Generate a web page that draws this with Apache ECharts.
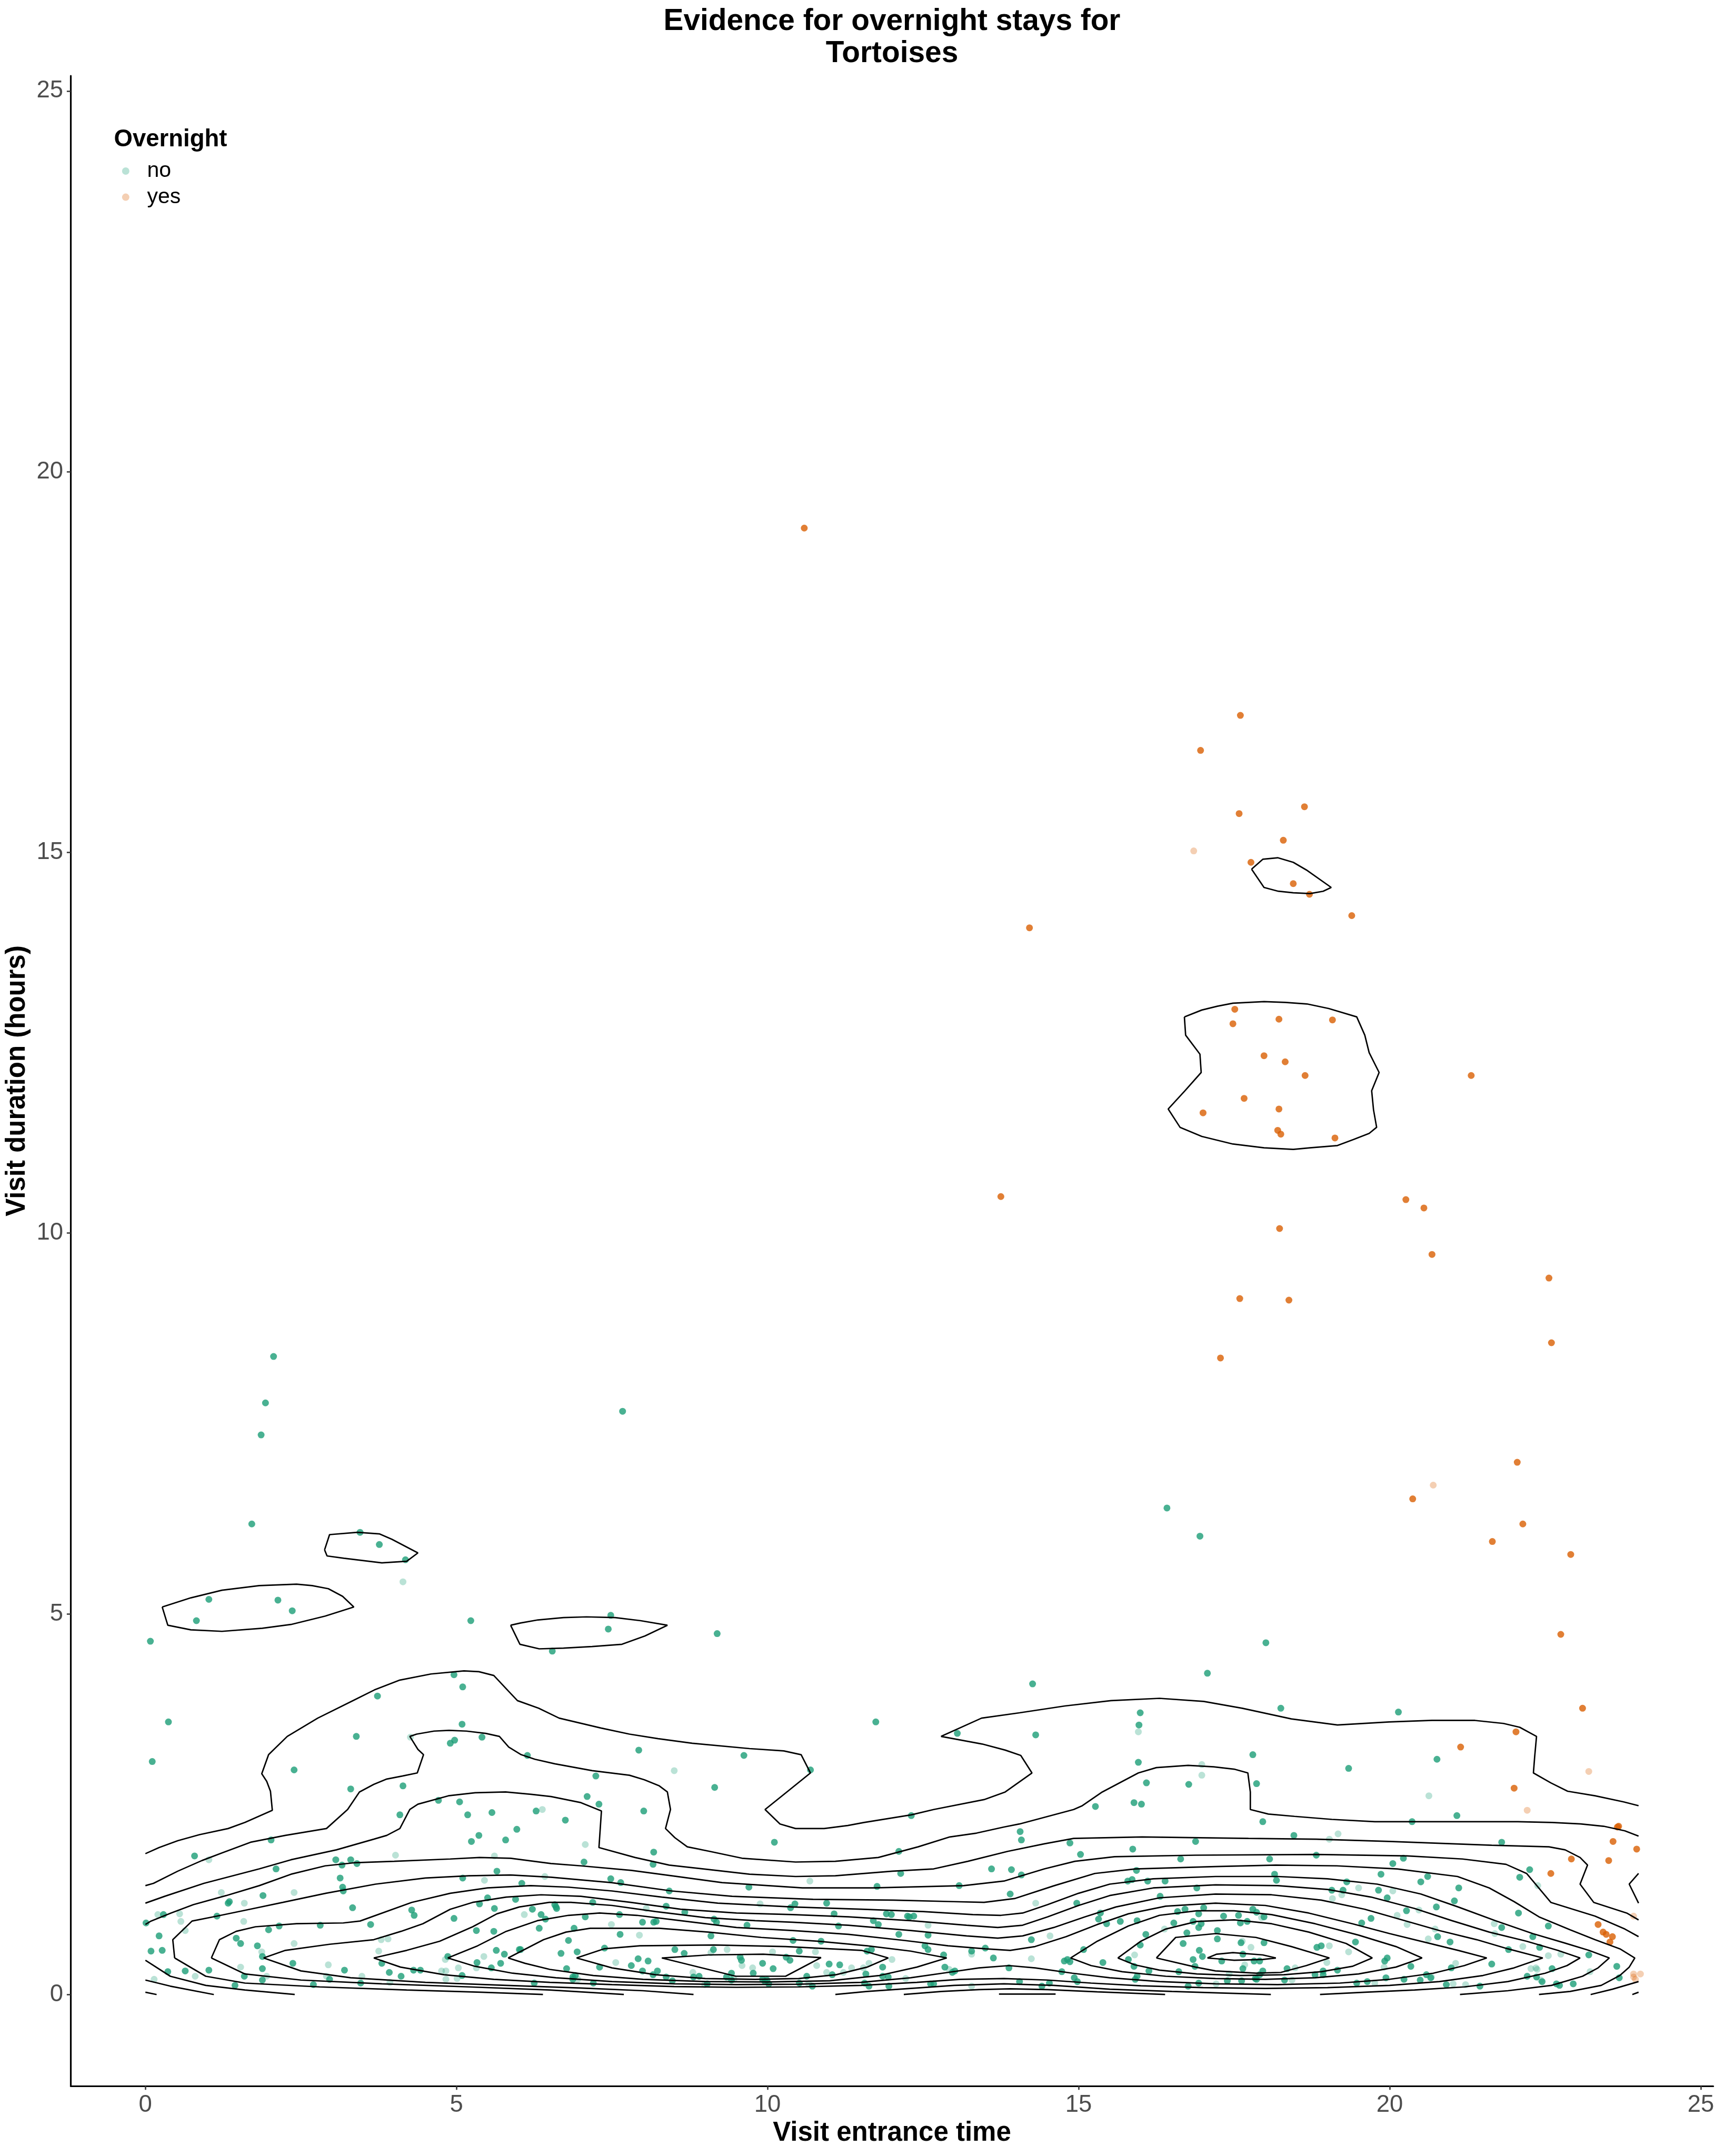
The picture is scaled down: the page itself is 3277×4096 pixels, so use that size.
<!DOCTYPE html>
<html>
<head>
<meta charset="utf-8">
<script src="https://cdn.jsdelivr.net/npm/echarts@6/dist/echarts.min.js"></script>
<style>html,body{margin:0;padding:0;background:#fff}#chart{width:3277px;height:4096px}</style>
</head>
<body>
<div id="chart"></div>
<script>
// ---------- axis ticks ----------
const xTicks = [0, 5, 10, 15, 20, 25];
const yTicks = [0, 5, 10, 15, 20, 25];
const legendNames = ['no', 'yes'];

// ---------- points: Overnight = no (opaque / faint) ----------
const noDark = [
[1.02,5.19],[2.13,5.18],[2.36,5.04],[0.82,4.91],[5.23,4.91],[0.08,4.64],[4.96,4.20],[5.10,4.04],[3.73,3.92],[0.37,3.58],[5.09,3.55],[3.39,3.39],[4.97,3.34],[4.90,3.30],[5.41,3.38],[0.11,3.06],[2.39,2.95],[3.30,2.70],[4.14,2.74],[4.71,2.55],[5.05,2.53],[4.09,2.36],[5.18,2.36],[5.57,2.39],[5.97,2.17],[5.36,2.09],[5.24,2.01],[5.79,2.03],[2.02,2.03],[0.79,1.82],[3.06,1.77],[3.30,1.77],[3.16,1.70],[3.40,1.72],[2.10,1.65],[5.65,1.62],[3.13,1.53],[5.10,1.53],[3.17,1.41],[3.18,1.36],[1.89,1.30],[1.33,1.20],[1.35,1.22],[5.50,1.27],[5.95,1.25],[5.37,1.19],[5.61,1.13],[3.33,1.14],[4.28,1.11],[4.32,1.04],[4.96,1.00],[0.29,1.05],[0.01,0.94],[1.15,1.03],[2.15,0.90],[1.98,0.85],[2.81,0.91],[3.62,0.92],[0.22,0.77],[5.32,0.84],[5.60,0.83],[1.46,0.74],[1.53,0.67],[1.80,0.64],[0.09,0.57],[0.27,0.58],[1.88,0.50],[5.64,0.58],[5.77,0.53],[6.01,0.59],[4.86,0.50],[2.37,0.41],[3.80,0.41],[5.33,0.42],[5.71,0.41],[5.56,0.35],[1.88,0.34],[3.20,0.32],[3.92,0.29],[4.31,0.32],[4.42,0.32],[0.36,0.30],[0.64,0.31],[1.02,0.32],[1.59,0.24],[1.88,0.19],[2.96,0.20],[4.11,0.24],[5.09,0.25],[1.44,0.12],[2.70,0.13],[3.46,0.15],
[7.48,4.98],[7.44,4.80],[6.54,4.51],[9.19,4.74],[11.74,3.58],[6.14,3.14],[7.93,3.21],[9.62,3.14],[10.69,2.95],[7.24,2.87],[9.15,2.72],[7.10,2.60],[7.29,2.50],[6.28,2.41],[6.75,2.29],[8.01,2.41],[10.11,2.00],[12.31,2.35],[8.17,1.87],[7.05,1.74],[8.16,1.71],[12.11,1.88],[12.14,1.59],[6.05,1.46],[7.48,1.52],[7.64,1.47],[8.42,1.36],[9.70,1.41],[11.76,1.42],[7.19,1.21],[6.58,1.18],[6.60,1.15],[6.61,1.13],[6.22,1.12],[6.36,1.05],[6.43,0.99],[8.37,1.16],[8.67,1.08],[7.62,1.05],[7.07,1.02],[7.99,0.95],[8.17,0.95],[8.21,0.96],[6.89,0.87],[6.33,0.87],[7.63,0.79],[9.14,0.99],[9.18,0.95],[10.37,1.14],[10.44,1.19],[10.95,1.20],[11.07,1.06],[9.67,0.91],[11.14,0.90],[11.91,1.06],[11.99,1.05],[12.25,1.03],[12.28,1.02],[12.35,1.03],[11.70,0.97],[11.78,0.92],[12.11,0.79],[12.58,0.78],[9.09,0.77],[10.41,0.71],[10.86,0.70],[6.80,0.71],[6.03,0.59],[7.38,0.61],[6.68,0.54],[6.94,0.56],[8.51,0.59],[8.66,0.54],[9.13,0.59],[10.51,0.57],[11.60,0.57],[11.67,0.59],[12.53,0.64],[12.58,0.59],[9.56,0.49],[9.58,0.45],[10.30,0.49],[10.36,0.45],[7.92,0.47],[8.08,0.44],[7.81,0.38],[7.30,0.36],[6.77,0.34],[9.92,0.41],[10.09,0.34],[10.99,0.40],[11.16,0.39],[11.85,0.36],[11.58,0.27],[7.99,0.31],[8.23,0.31],[8.16,0.26],[8.37,0.23],[8.47,0.18],[8.81,0.23],[8.90,0.24],[9.34,0.23],[9.42,0.28],[9.42,0.19],[9.77,0.28],[9.92,0.20],[9.99,0.19],[10.02,0.14],[9.96,0.17],[9.03,0.14],[11.04,0.26],[10.63,0.24],[10.72,0.11],[10.51,0.15],[11.85,0.24],[11.94,0.23],[11.95,0.11],[11.56,0.15],[11.63,0.11],[12.62,0.14],[6.87,0.23],[6.91,0.25],[6.87,0.20],[7.20,0.15],[6.25,0.15],
[18.01,4.62],[17.07,4.22],[14.26,4.08],[15.99,3.70],[13.05,3.43],[14.31,3.41],[15.97,3.54],[17.80,3.15],[15.96,3.05],[16.09,2.78],[16.77,2.76],[17.86,2.77],[15.27,2.47],[15.89,2.52],[16.01,2.50],[17.96,2.27],[14.06,2.14],[14.08,2.03],[14.86,1.99],[15.87,1.91],[16.88,2.01],[15.03,1.84],[16.64,1.78],[18.07,1.78],[13.60,1.65],[13.92,1.64],[14.08,1.57],[13.08,1.43],[15.93,1.63],[15.79,1.49],[15.86,1.51],[16.11,1.49],[16.39,1.49],[13.90,1.32],[14.97,1.20],[16.31,1.29],[16.90,1.40],[15.35,1.07],[15.32,0.99],[15.45,0.93],[15.67,0.96],[15.94,0.97],[16.59,1.09],[16.71,1.12],[17.01,1.14],[16.93,1.06],[17.33,1.03],[17.57,1.04],[17.80,1.12],[17.86,1.08],[17.98,1.02],[17.60,0.94],[17.71,0.96],[16.53,0.94],[16.84,0.96],[16.97,0.93],[16.93,0.88],[16.08,0.79],[16.74,0.81],[17.23,0.84],[17.23,0.73],[17.98,0.68],[17.61,0.68],[16.68,0.67],[15.99,0.65],[14.24,0.72],[13.50,0.61],[13.28,0.57],[12.83,0.52],[13.63,0.48],[15.08,0.59],[14.77,0.44],[14.82,0.46],[14.86,0.43],[15.39,0.42],[15.80,0.46],[15.89,0.37],[16.94,0.58],[16.99,0.50],[16.84,0.46],[16.87,0.37],[17.30,0.44],[17.64,0.53],[17.82,0.44],[17.91,0.44],[17.64,0.34],[17.96,0.31],[17.91,0.26],[17.84,0.21],[17.86,0.20],[17.39,0.18],[17.62,0.18],[16.93,0.15],[16.76,0.11],[16.61,0.30],[16.13,0.31],[15.94,0.24],[15.91,0.20],[14.73,0.30],[14.93,0.22],[14.98,0.17],[14.05,0.17],[13.88,0.35],[14.53,0.15],[14.41,0.11],[12.85,0.36],[12.97,0.29],[13.01,0.31],[12.67,0.14],
[18.25,3.76],[20.14,3.71],[20.76,3.09],[19.34,2.97],[21.08,2.35],[20.36,2.27],[18.46,2.09],[21.80,2.00],[18.82,1.83],[20.22,1.79],[20.05,1.72],[18.15,1.58],[18.18,1.50],[19.31,1.48],[19.86,1.58],[20.61,1.55],[20.50,1.48],[22.25,1.64],[22.09,1.54],[19.07,1.37],[19.25,1.37],[19.82,1.37],[21.11,1.40],[19.96,1.27],[21.04,1.23],[20.75,1.15],[20.27,1.10],[22.07,1.07],[19.70,1.00],[19.55,0.94],[21.80,0.88],[22.55,0.90],[20.77,0.76],[20.97,0.69],[22.30,0.76],[19.45,0.69],[18.83,0.62],[18.90,0.64],[22.41,0.62],[21.91,0.59],[23.20,0.52],[19.96,0.48],[19.92,0.44],[21.64,0.40],[20.34,0.37],[20.99,0.35],[18.35,0.34],[19.16,0.32],[18.93,0.31],[18.93,0.26],[18.80,0.26],[22.61,0.34],[23.65,0.37],[23.69,0.22],[22.21,0.24],[22.36,0.23],[22.45,0.17],[22.68,0.14],[22.73,0.12],[22.95,0.14],[20.59,0.26],[20.66,0.22],[20.49,0.19],[20.23,0.20],[19.94,0.22],[19.64,0.17],[19.47,0.15],[20.91,0.13],[21.45,0.11],[18.31,0.19],
[1.71,6.18],[1.86,7.35],[1.93,7.77],[2.06,8.38],[3.45,6.07],[3.76,5.91],[4.18,5.71],[7.67,7.66],[16.42,6.39],[16.95,6.02]
];
const noPale = [
[4.14,5.42],[4.26,3.38],[1.02,1.77],[4.02,1.83],[5.61,1.82],[5.45,1.50],[1.22,1.34],[2.39,1.34],[1.59,1.20],[0.20,1.05],[0.55,1.06],[0.57,0.96],[0.64,0.84],[1.58,0.96],[3.79,0.72],[3.90,0.73],[2.39,0.67],[1.87,0.56],[3.75,0.57],[5.44,0.50],[4.82,0.46],[5.32,0.35],[5.03,0.35],[4.76,0.31],[4.83,0.31],[1.53,0.36],[2.94,0.39],[0.80,0.24],[0.14,0.20],[1.95,0.24],[2.91,0.24],[3.48,0.24],[4.83,0.20],[5.01,0.21],[3.93,0.16],
[8.50,2.94],[6.38,2.43],[7.07,1.97],[6.42,1.55],[10.68,1.49],[6.09,1.05],[8.05,1.13],[7.49,0.92],[7.94,0.78],[9.88,1.19],[12.58,0.91],[9.09,0.55],[9.35,0.59],[10.08,0.56],[10.77,0.56],[12.00,0.46],[7.56,0.42],[9.59,0.38],[9.76,0.35],[10.79,0.38],[11.35,0.35],[11.54,0.35],[11.63,0.41],[8.80,0.29],[9.46,0.20],[8.99,0.13],[10.95,0.29],[11.22,0.29],[10.66,0.14],[12.22,0.21],[6.95,0.20],
[15.96,3.45],[16.98,3.02],[16.98,2.88],[14.31,1.20],[17.94,1.01],[16.38,0.86],[17.63,0.70],[17.77,0.62],[14.54,0.77],[13.28,0.53],[14.24,0.47],[15.90,0.52],[17.67,0.39],[17.42,0.27],[17.21,0.14],[13.28,0.11],[12.92,0.33],
[20.63,2.61],[19.03,2.04],[19.17,2.11],[22.38,1.43],[19.50,1.40],[20.05,1.36],[19.08,1.26],[19.23,1.31],[20.47,1.11],[20.12,1.04],[20.28,0.92],[21.68,0.93],[20.73,0.86],[20.62,0.73],[21.69,0.80],[19.03,0.64],[19.34,0.56],[22.14,0.63],[22.55,0.51],[22.75,0.53],[18.99,0.42],[21.06,0.41],[19.91,0.36],[18.48,0.35],[22.27,0.34],[22.35,0.35],[22.37,0.33],[23.22,0.30],[22.43,0.19],[20.67,0.23],[19.76,0.15],[21.02,0.14],[21.22,0.13],[18.43,0.19]
];

// ---------- points: Overnight = yes ----------
const yesDark = [
[22.75,4.73],[23.10,3.76],[22.03,3.45],[21.14,3.25],[22.00,2.71],[23.66,2.20],[23.68,2.21],[23.59,2.01],[23.97,1.91],[22.92,1.78],[23.52,1.76],[22.59,1.59],[23.35,0.92],[23.43,0.82],[23.48,0.79],[23.58,0.76],[23.54,0.69],
[17.60,16.80],[16.96,16.34],[17.58,15.51],[18.63,15.60],[18.29,15.16],[17.77,14.87],[18.45,14.59],[18.71,14.45],[19.39,14.17],[17.51,12.94],[17.48,12.75],[18.22,12.81],[19.08,12.80],[17.98,12.33],[18.32,12.25],[18.64,12.07],[21.31,12.07],[17.66,11.77],[17.00,11.58],[18.22,11.63],[18.20,11.35],[18.25,11.30],[19.12,11.25],
[10.59,19.26],[14.21,14.01],[13.75,10.48],[18.23,10.06],[20.26,10.44],[20.55,10.33],[20.68,9.72],[17.59,9.14],[18.38,9.12],[17.28,8.36],[22.56,9.41],[22.60,8.56],[22.05,6.99],[22.14,6.18],[20.37,6.51],[21.65,5.95],[22.91,5.78]
];
const yesPale = [
[16.85,15.02],[20.70,6.69],[23.20,2.93],[22.21,2.42],[23.92,1.03],[23.92,0.27],[24.03,0.27],[23.92,0.23],[23.95,0.20]
];

// ---------- 2-D density contour paths ----------
const contourLevel1 = [
[[0,1.85],[0.22,1.93],[0.52,2.02],[0.87,2.10],[1.33,2.18],[1.60,2.26],[2.04,2.42],[2.01,2.67],[1.95,2.80],[1.87,2.90],[1.98,3.15],[2.28,3.39],[2.77,3.63],[3.36,3.87],[3.68,4.00],[4.09,4.13],[4.59,4.21],[5.12,4.25],[5.36,4.24],[5.60,4.19],[5.83,3.99],[5.98,3.86],[6.32,3.76],[6.65,3.63],[7.32,3.50],[7.78,3.42],[8.24,3.36],[8.79,3.30],[9.71,3.23],[10.26,3.20],[10.54,3.15],[10.69,2.91],[10.31,2.66],[9.96,2.43],[10.20,2.24],[10.45,2.18],[10.91,2.18],[11.29,2.22],[11.55,2.26],[12.31,2.36],[12.67,2.43],[13.48,2.56],[13.82,2.66],[14.25,2.91],[14.07,3.14],[13.82,3.21],[13.45,3.29],[12.79,3.39],[13.44,3.63],[14.05,3.70],[14.78,3.79],[15.52,3.86],[16.30,3.89],[17.01,3.85],[17.63,3.76],[18.42,3.62],[19.16,3.54],[19.99,3.58],[20.68,3.60],[21.37,3.60],[21.83,3.56],[22.09,3.51],[22.36,3.39],[22.33,3.12],[22.31,2.91],[22.59,2.78],[22.86,2.67],[23.30,2.61],[23.76,2.53],[24,2.48]],
[[0.27,5.09],[0.73,5.21],[1.23,5.31],[1.83,5.37],[2.43,5.39],[2.68,5.37],[2.94,5.33],[3.17,5.23],[3.35,5.09],[2.89,4.97],[2.34,4.86],[1.88,4.81],[1.23,4.77],[0.73,4.79],[0.36,4.85],[0.27,5.09]],
[[2.88,5.84],[2.96,6.04],[3.41,6.07],[3.76,6.05],[3.96,5.98],[4.38,5.80],[4.20,5.69],[3.80,5.67],[3.19,5.73],[2.92,5.76],[2.88,5.84]],
[[5.87,4.85],[6.03,4.88],[6.31,4.92],[6.72,4.95],[7.09,4.96],[7.55,4.95],[7.96,4.91],[8.39,4.85],[8.03,4.71],[7.66,4.60],[7.18,4.57],[6.72,4.55],[6.33,4.54],[6.02,4.60],[5.87,4.85]],
[[17.78,14.78],[17.96,14.91],[18.20,14.93],[18.45,14.87],[18.66,14.77],[19.06,14.54],[18.93,14.49],[18.72,14.46],[18.45,14.47],[18.21,14.49],[17.98,14.54],[17.78,14.78]],
[[16.70,12.84],[16.98,12.93],[17.23,12.98],[17.48,13.02],[17.98,13.04],[18.32,13.03],[18.67,13.01],[19.02,12.95],[19.47,12.84],[19.60,12.60],[19.67,12.37],[19.83,12.11],[19.71,11.87],[19.74,11.62],[19.79,11.39],[19.67,11.31],[19.42,11.23],[19.16,11.15],[18.72,11.12],[18.45,11.10],[17.98,11.12],[17.48,11.17],[16.98,11.27],[16.63,11.39],[16.44,11.63],[16.71,11.87],[16.97,12.11],[16.95,12.35],[16.72,12.60],[16.70,12.84]]
];
const contourLevel2 = [
[[0,1.43],[0.13,1.46],[0.52,1.62],[0.91,1.76],[1.23,1.86],[1.69,2.00],[2.25,2.09],[2.91,2.18],[3.25,2.43],[3.44,2.66],[3.67,2.76],[3.88,2.83],[4.13,2.87],[4.37,2.91],[4.47,3.15],[4.38,3.22],[4.25,3.39],[4.36,3.42],[4.64,3.46],[4.88,3.47],[5.16,3.46],[5.47,3.43],[5.69,3.39],[5.84,3.25],[6.04,3.15],[6.26,3.09],[6.58,3.03],[7.18,2.94],[7.78,2.88],[8.02,2.82],[8.26,2.74],[8.39,2.66],[8.44,2.43],[8.36,2.18],[8.51,2.06],[8.71,1.94],[9.07,1.88],[9.59,1.79],[10.45,1.74],[11.09,1.75],[11.78,1.80],[12.42,1.94],[12.93,2.07],[13.36,2.12],[13.80,2.20],[14.05,2.24],[14.92,2.43],[15.06,2.48],[15.38,2.66],[15.96,2.91],[16.25,2.98],[16.76,3.01],[17.17,2.99],[17.50,2.96],[17.72,2.91],[17.76,2.66],[17.76,2.43],[18.05,2.37],[18.47,2.34],[19.07,2.30],[19.76,2.27],[20.59,2.27],[21.37,2.27],[22.06,2.27],[22.61,2.26],[23.07,2.24],[23.44,2.21],[23.78,2.15],[24,2.08]],
[[0,0.03],[0.18,0]]
];
const contourLevel3 = [
[[0,1.20],[0.31,1.29],[0.94,1.46],[1.83,1.65],[2.34,1.77],[3.07,1.90],[3.67,2.04],[3.88,2.09],[4.09,2.18],[4.25,2.43],[4.38,2.50],[4.87,2.61],[5.30,2.65],[5.79,2.66],[6.20,2.63],[6.52,2.60],[7.00,2.52],[7.33,2.41],[7.29,1.93],[7.87,1.80],[8.42,1.70],[8.97,1.65],[9.71,1.58],[10.45,1.55],[11.09,1.56],[12.01,1.62],[12.67,1.65],[13.22,1.75],[13.86,1.88],[14.45,1.98],[14.92,2.05],[16.02,2.07],[17.73,2.05],[18.82,2.04],[19.99,2.01],[21.64,1.96],[22.56,1.94],[22.82,1.90],[23.06,1.80],[23.18,1.70],[23.06,1.45],[23.28,1.21],[23.81,1.07],[24,0.98]],
[[0,0.19],[0.40,0.11],[1.10,0]],
[[23.90,0],[24,0.03]],
[[24,1.59],[23.85,1.45],[24,1.20]]
];
const contourLevel4 = [
[[0,0.92],[0.08,0.96],[0.41,1.07],[0.77,1.18],[1.30,1.30],[1.83,1.43],[2.34,1.58],[2.89,1.69],[3.35,1.73],[4.00,1.75],[4.90,1.78],[5.37,1.80],[5.87,1.79],[6.52,1.72],[7.00,1.69],[7.81,1.63],[8.46,1.56],[9.27,1.47],[10.56,1.40],[11.70,1.40],[13.15,1.43],[13.80,1.49],[14.45,1.65],[14.94,1.75],[15.58,1.81],[16.88,1.83],[18.82,1.84],[20.28,1.82],[21.17,1.78],[21.87,1.71],[22.20,1.59],[22.59,1.21],[23.30,1.03],[23.78,0.86],[24,0.76]],
[[0,0.45],[0.40,0.24],[0.97,0.12],[1.60,0.06],[2.40,0]],
[[23.23,0],[23.58,0.07],[24,0.17]]
];
const contourLevel5 = [
[[0.47,0.48],[0.44,0.72],[0.75,0.965],[1.15,1.03],[1.68,1.12],[2.21,1.21],[2.9,1.33],[3.7,1.45],[4.5,1.53],[5.2,1.56],[5.87,1.57],[6.52,1.54],[7.49,1.47],[8.46,1.36],[9.43,1.29],[10.73,1.25],[12.02,1.24],[12.99,1.22],[13.48,1.21],[13.97,1.26],[14.61,1.43],[15.26,1.59],[15.91,1.65],[17.20,1.68],[18.17,1.70],[19.15,1.69],[20.12,1.65],[21.09,1.55],[21.6,1.40],[22.0,1.22],[22.4,1.02],[22.9,0.85],[23.3,0.72],[23.7,0.60],[23.94,0.48],[23.85,0.36],[23.7,0.25],[23.4,0.12],[22.9,0.04],[22.40,0]],
[[0.47,0.48],[0.97,0.24],[1.6,0.15],[2.8,0.10],[4.2,0.06],[5.4,0.03],[6.39,0]],
[[13.72,0.006],[14.63,0.006]]
];
const contourLevel6 = [
[[1.06,0.48],[1.19,0.72],[1.46,0.83],[1.77,0.89],[2.43,0.93],[3.18,0.94],[3.45,0.965],[4.28,1.21],[4.9,1.33],[5.5,1.40],[6.19,1.43],[6.8,1.41],[7.5,1.36],[8.3,1.28],[9.2,1.20],[10.4,1.15],[11.5,1.12],[12.5,1.09],[13.3,1.05],[13.75,1.04],[14.1,1.07],[14.5,1.18],[15.0,1.33],[15.5,1.45],[16.2,1.52],[17.2,1.55],[18.2,1.55],[19.0,1.52],[19.8,1.45],[20.5,1.32],[21.1,1.15],[21.7,0.97],[22.3,0.80],[22.8,0.68],[23.2,0.58],[23.53,0.48],[23.35,0.35],[23.1,0.24],[22.6,0.12],[21.9,0.05],[21.13,0]],
[[1.06,0.48],[1.6,0.27],[2.5,0.19],[3.8,0.14],[5.2,0.10],[6.5,0.06],[7.69,0]],
[[12.19,0],[12.8,0.04],[13.4,0.065],[13.9,0.075],[14.5,0.065],[15.3,0.035],[16.39,0]]
];
const contourLevel7 = [
[[1.90,0.48],[2.25,0.58],[2.96,0.66],[3.67,0.72],[4.11,0.83],[4.46,0.93],[4.90,1.12],[5.26,1.21],[5.8,1.28],[6.36,1.31],[7.0,1.29],[7.8,1.21],[8.6,1.12],[9.5,1.07],[10.4,1.05],[11.3,1.02],[12.3,0.97],[13.2,0.91],[13.7,0.88],[14.1,0.91],[14.5,1.02],[15.0,1.17],[15.5,1.30],[16.2,1.40],[17.2,1.44],[18.2,1.43],[19.0,1.38],[19.7,1.28],[20.4,1.13],[21.0,0.97],[21.6,0.82],[22.2,0.70],[22.7,0.58],[23.06,0.48],[22.85,0.38],[22.5,0.28],[21.9,0.17],[21.2,0.10],[20.4,0.06],[19.6,0.03],[18.88,0]],
[[1.90,0.48],[2.5,0.31],[3.3,0.22],[4.5,0.16],[5.8,0.12],[7.0,0.085],[8.0,0.05],[8.81,0]],
[[11.09,0],[11.6,0.04],[12.3,0.08],[13.0,0.12],[13.8,0.14],[14.6,0.12],[15.5,0.07],[16.5,0.04],[17.3,0.02],[18.09,0]]
];
const contourLevel8 = [
[[3.67,0.48],[4.20,0.58],[4.73,0.70],[5.26,0.89],[5.65,1.06],[6.01,1.15],[6.49,1.21],[6.84,1.21],[7.5,1.17],[8.2,1.09],[9.0,1.01],[9.8,0.97],[10.4,0.95],[11.3,0.91],[12.3,0.84],[13.2,0.77],[13.7,0.74],[14.1,0.77],[14.6,0.88],[15.1,1.02],[15.6,1.15],[16.3,1.27],[17.2,1.32],[18.1,1.31],[18.9,1.24],[19.6,1.12],[20.2,0.98],[20.8,0.84],[21.4,0.72],[21.9,0.60],[22.46,0.48],[22.0,0.35],[21.5,0.25],[20.8,0.17],[20.0,0.12],[19.0,0.09],[18.0,0.08],[17.0,0.09],[16.0,0.115],[15.2,0.15],[14.5,0.19],[13.8,0.21],[13.1,0.20],[12.4,0.16],[11.5,0.12],[10.5,0.10],[9.5,0.095],[8.5,0.105],[7.5,0.13],[6.5,0.16],[5.6,0.20],[4.8,0.26],[4.1,0.36],[3.67,0.48]]
];
const contourLevel9 = [
[[4.86,0.48],[5.34,0.64],[5.8,0.83],[6.3,0.97],[6.8,1.04],[7.3,1.07],[7.9,1.04],[8.6,0.97],[9.5,0.88],[10.4,0.84],[11.3,0.79],[12.2,0.71],[12.9,0.64],[13.5,0.60],[13.9,0.58],[14.3,0.63],[14.8,0.76],[15.3,0.92],[15.8,1.06],[16.4,1.16],[17.2,1.20],[18.0,1.17],[18.7,1.07],[19.4,0.93],[20.0,0.80],[20.6,0.68],[21.1,0.58],[21.56,0.48],[21.2,0.38],[20.7,0.28],[20.0,0.20],[19.2,0.15],[18.2,0.13],[17.2,0.14],[16.3,0.17],[15.5,0.22],[14.9,0.28],[14.3,0.35],[13.88,0.38],[13.4,0.35],[12.9,0.29],[12.3,0.22],[11.5,0.16],[10.5,0.135],[9.5,0.13],[8.5,0.14],[7.5,0.17],[6.6,0.22],[5.9,0.28],[5.3,0.37],[4.86,0.48]]
];
const contourLevel10 = [
[[5.83,0.48],[6.40,0.72],[6.76,0.82],[7.15,0.87],[8.26,0.87],[9.05,0.82],[9.9,0.75],[10.8,0.70],[11.6,0.64],[12.3,0.57],[12.88,0.48],[12.4,0.36],[11.8,0.25],[11.0,0.18],[10.0,0.165],[9.0,0.17],[8.0,0.20],[7.2,0.25],[6.5,0.33],[6.1,0.41],[5.83,0.48]],
[[14.87,0.48],[15.3,0.70],[15.8,0.90],[16.3,1.04],[16.9,1.10],[17.5,1.10],[18.1,1.05],[18.8,0.93],[19.5,0.78],[20.1,0.63],[20.52,0.48],[20.1,0.36],[19.5,0.27],[18.8,0.22],[18.0,0.20],[17.2,0.21],[16.4,0.24],[15.7,0.30],[15.2,0.38],[14.87,0.48]]
];
const contourLevel11 = [
[[6.93,0.48],[7.37,0.60],[7.95,0.64],[9.14,0.65],[10.29,0.63],[11.51,0.58],[11.94,0.48],[11.6,0.36],[11.1,0.26],[10.5,0.21],[9.8,0.20],[9.0,0.21],[8.2,0.26],[7.5,0.35],[6.93,0.48]],
[[15.63,0.48],[16.0,0.70],[16.4,0.86],[16.9,0.96],[17.5,0.98],[18.1,0.93],[18.7,0.82],[19.3,0.67],[19.72,0.48],[19.4,0.37],[18.9,0.30],[18.3,0.26],[17.6,0.25],[16.9,0.27],[16.3,0.32],[15.9,0.39],[15.63,0.48]]
];
const contourLevel12 = [
[[8.30,0.48],[9.05,0.52],[9.93,0.53],[10.86,0.485],[10.29,0.24],[9.49,0.24],[8.30,0.48]],
[[16.25,0.48],[16.56,0.75],[17.20,0.80],[17.85,0.75],[18.42,0.63],[19.03,0.48],[18.66,0.38],[18.25,0.29],[17.85,0.28],[17.2,0.31],[16.88,0.36],[16.25,0.48]]
];
const contourLevel13 = [
[[17.07,0.48],[17.22,0.53],[17.48,0.55],[17.96,0.52],[18.17,0.48],[17.96,0.46],[17.50,0.45],[17.22,0.47],[17.07,0.48]]
];

// ---------- build chart ----------
const FONT = '"Liberation Sans", Arial, Helvetica, sans-serif';
const GREEN = '#1B9E77', ORANGE = '#D95F02';

const allContours = [].concat(contourLevel1, contourLevel2, contourLevel3, contourLevel4, contourLevel5,
  contourLevel6, contourLevel7, contourLevel8, contourLevel9, contourLevel10, contourLevel11, contourLevel12, contourLevel13);

function scatterSeries(name, data, color, opacity) {
  return {
    type: 'scatter', name: name, data: data, symbol: 'circle', symbolSize: 13,
    itemStyle: { color: color, opacity: opacity }, z: 2, silent: true, clip: true
  };
}

const series = [
  scatterSeries('no', noDark, GREEN, 0.8),
  scatterSeries('no', noPale, GREEN, 0.3),
  scatterSeries('yes', yesDark, ORANGE, 0.8),
  scatterSeries('yes', yesPale, ORANGE, 0.3)
];
allContours.forEach(function (path) {
  series.push({
    type: 'line', data: path, symbol: 'none', showSymbol: false, smooth: false,
    lineStyle: { color: '#000', width: 2.7 }, z: 4, silent: true, clip: true
  });
});

const chart = echarts.init(document.getElementById('chart'), null, { renderer: 'canvas', width: 3277, height: 4096 });
chart.setOption({
  backgroundColor: '#ffffff',
  animation: false,
  grid: { left: 134.4, right: 22.4, top: 144, bottom: 133.2, containLabel: false, outerBoundsMode: 'none' },
  xAxis: {
    type: 'value', min: -1.2, max: 25.2,
    name: 'Visit entrance time', nameLocation: 'middle', nameGap: 54.4,
    nameTextStyle: { fontSize: 51, fontWeight: 'bold', color: '#000', fontFamily: FONT, lineHeight: 51 },
    axisLine: { show: true, onZero: false, lineStyle: { color: '#000', width: 3.2 } },
    axisTick: { show: true, length: 7.5, customValues: xTicks, lineStyle: { color: '#333333', width: 2.5 } },
    axisLabel: { show: true, customValues: xTicks, fontSize: 45.5, color: '#4D4D4D', margin: 14, fontFamily: FONT, lineHeight: 45.5 },
    splitLine: { show: false }
  },
  yAxis: {
    type: 'value', min: -1.2, max: 25.2,
    name: 'Visit duration (hours)', nameLocation: 'middle', nameGap: 72.5, nameRotate: 90,
    nameTextStyle: { fontSize: 51, fontWeight: 'bold', color: '#000', fontFamily: FONT, lineHeight: 51 },
    axisLine: { show: true, onZero: false, lineStyle: { color: '#000', width: 3.2 } },
    axisTick: { show: true, length: 7.5, customValues: yTicks, lineStyle: { color: '#333333', width: 2.5 } },
    axisLabel: { show: true, customValues: yTicks, fontSize: 45.5, color: '#4D4D4D', margin: 14.4, fontFamily: FONT, padding: [7, 0, 0, 0] },
    splitLine: { show: false }
  },
  legend: {
    data: legendNames, orient: 'vertical', left: 231.8, top: 304.5, padding: 0,
    itemWidth: 71.2, itemHeight: 14, itemGap: 8.6, icon: 'circle', selectedMode: false,
    itemStyle: { opacity: 0.3 },
    textStyle: { fontSize: 41, lineHeight: 41, color: '#000', fontFamily: FONT }
  },
  graphic: [
    { type: 'text', x: 1694.5, y: 41.4, silent: true,
      style: { text: 'Evidence for overnight stays for', fill: '#000', font: 'bold 56.8px ' + FONT, align: 'center', verticalAlign: 'middle' } },
    { type: 'text', x: 1694.5, y: 102.3, silent: true,
      style: { text: 'Tortoises', fill: '#000', font: 'bold 56.8px ' + FONT, align: 'center', verticalAlign: 'middle' } },
    { type: 'text', x: 216.6, y: 265.9, silent: true,
      style: { text: 'Overnight', fill: '#000', font: 'bold 45.5px ' + FONT, align: 'left', verticalAlign: 'middle' } }
  ],
  series: series
});
</script>
</body>
</html>
